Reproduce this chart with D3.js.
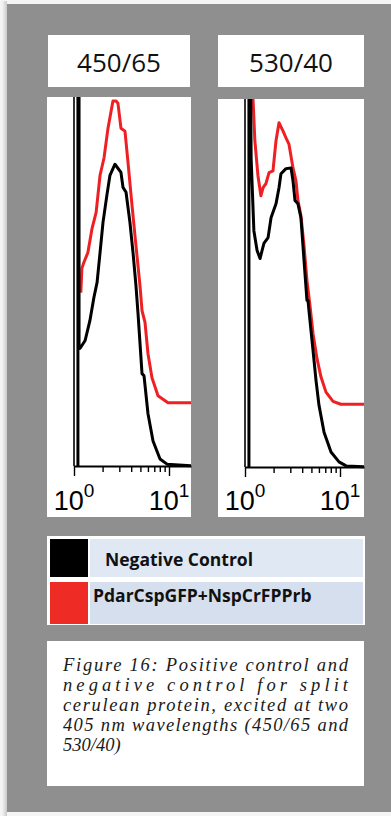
<!DOCTYPE html>
<html>
<head>
<meta charset="utf-8">
<script src="https://cdn.jsdelivr.net/npm/d3@7"></script>
<style>
  html, body { margin: 0; padding: 0; background: #f4f4f4; }
  svg { display: block; }
</style>
</head>
<body>
<svg id="chart" width="391" height="816"></svg>
<script>
// ---------------- DATA ----------------
const panelTitles = ["450/65", "530/40"];
const seriesNames = ["Negative Control", "PdarCspGFP+NspCrFPPrb"];
const seriesColors = ["#000000", "#ee2024"];
const tickValues = [1, 2, 3, 4, 5, 6, 7, 8, 9, 10];
const tickLabelExponents = [0, 1]; // labels 10^0 and 10^1

// [fluorescence intensity, count (% of max)]
const neg450 = [
  [1.10, 0], [1.10, 115], [1.13, 115], [1.13, 31.9], [1.16, 32.0], [1.31, 34.1],
  [1.47, 39.5], [1.62, 45.8], [1.75, 49.9], [1.88, 58.0], [2.02, 66.2],
  [2.22, 73.6], [2.39, 79.0], [2.70, 82.0], [3.12, 79.8], [3.28, 75.7],
  [3.53, 74.4], [3.88, 66.2], [4.18, 58.0], [4.49, 49.0], [4.72, 41.4],
  [5.20, 25.1], [5.46, 24.5], [6.01, 14.2], [6.79, 6.8], [8.04, 1.9],
  [9.53, 0.5], [18.0, 0]
];
const pos450 = [
  [1.18, 47.1], [1.21, 53.7], [1.27, 55.3], [1.40, 58.0], [1.55, 64.6],
  [1.71, 68.9], [1.88, 79.0], [2.07, 83.7], [2.28, 91.8], [2.57, 99.2],
  [2.77, 99.2], [2.90, 98.6], [3.12, 91.8], [3.44, 91.0], [3.70, 82.6],
  [4.08, 70.8], [4.49, 59.9], [4.95, 49.0], [5.20, 42.2], [5.59, 39.0],
  [6.01, 30.5], [6.62, 24.0], [7.66, 19.1], [9.76, 17.2], [18.0, 17.2]
];
const neg530 = [
  [1.10, 0], [1.10, 115], [1.14, 115], [1.16, 84.2], [1.24, 64.4], [1.34, 59.0],
  [1.44, 56.8], [1.58, 60.9], [1.75, 62.5], [1.88, 67.9], [2.12, 71.7],
  [2.28, 76.1], [2.39, 79.9], [2.70, 81.3], [3.05, 81.5], [3.20, 78.0],
  [3.36, 72.6], [3.61, 71.7], [3.88, 67.9], [4.18, 56.3], [4.49, 45.4],
  [4.60, 45.4], [4.83, 39.9], [5.20, 31.8], [5.59, 23.6], [6.01, 16.8],
  [6.79, 9.5], [8.04, 4.1], [9.76, 1.4], [11.6, 0.3], [19.0, 0]
];
const pos530 = [
  [1.17, 110], [1.27, 88.9], [1.37, 79.3], [1.47, 73.9], [1.55, 76.1],
  [1.66, 77.2], [1.79, 80.2], [1.97, 80.7], [2.12, 88.9], [2.28, 93.8],
  [2.51, 91.6], [2.70, 89.7], [2.90, 88.0], [3.20, 81.5], [3.44, 78.0],
  [3.61, 72.6], [3.88, 68.5], [4.18, 60.3], [4.49, 50.8], [4.83, 44.0],
  [5.20, 36.4], [5.72, 29.6], [6.31, 24.5], [7.12, 20.4], [8.44, 17.9],
  [10.2, 17.1], [19.0, 17.1]
];
const panelSeries = [[neg450, pos450], [neg530, pos530]];

const captionLines = [
  "Figure 16: Positive control and",
  "negative control for split",
  "cerulean protein, excited at two",
  "405 nm wavelengths (450/65 and",
  "530/40)"
];

// ---------------- LAYOUT ----------------
const svg = d3.select("#chart");
const defs = svg.append("defs");

// page shadow + gray board
const g0 = defs.append("linearGradient").attr("id", "shadowL").attr("x1", 0).attr("x2", 1);
g0.append("stop").attr("offset", 0).attr("stop-color", "#f4f4f4");
g0.append("stop").attr("offset", 1).attr("stop-color", "#c9c9c9");
svg.append("rect").attr("x", 2).attr("y", 1).attr("width", 5).attr("height", 815).attr("fill", "url(#shadowL)");
svg.append("rect").attr("x", 7).attr("y", 4).attr("width", 384).attr("height", 808).attr("fill", "#8f8f8f");

const panelBoxes = [
  { left: 47, right: 191, titleL: 48, titleR: 190, top: 97, axisY: 466 },
  { left: 218, right: 364, titleL: 218, titleR: 364, top: 99, axisY: 467 }
];

panelBoxes.forEach((pb, i) => {
  // title box
  svg.append("rect").attr("x", pb.titleL).attr("y", 35).attr("width", pb.titleR - pb.titleL).attr("height", 52).attr("fill", "#fff");
  svg.append("text").attr("x", (pb.titleL + pb.titleR) / 2).attr("y", 72)
    .attr("text-anchor", "middle").attr("font-family", "'Open Sans', sans-serif")
    .attr("font-size", 26).attr("fill", "#111").text(panelTitles[i]);

  // plot panel
  svg.append("rect").attr("x", pb.left).attr("y", pb.top).attr("width", pb.right - pb.left)
    .attr("height", 517 - pb.top).attr("fill", "#fff");

  const x0 = pb.left + 27;
  const xTmp = d3.scaleLog().domain([1, 10]).range([x0, x0 + 95]);
  const xMax = xTmp.invert(pb.right);
  const x = d3.scaleLog().domain([1, xMax]).range([x0, pb.right]);
  const y = d3.scaleLinear().domain([0, 100]).range([pb.axisY, pb.top + 1]);

  const clipId = "clip" + i;
  defs.append("clipPath").attr("id", clipId).append("rect")
    .attr("x", pb.left).attr("y", pb.top).attr("width", pb.right - pb.left).attr("height", pb.axisY - pb.top + 2);

  // y axis line
  svg.append("line").attr("x1", x(1)).attr("x2", x(1)).attr("y1", pb.top).attr("y2", pb.axisY)
    .attr("stroke", "#000").attr("stroke-width", 1.6);

  // x axis
  const axis = d3.axisBottom(x).tickValues(tickValues).tickSizeOuter(0).tickFormat("");
  const ax = svg.append("g").attr("transform", `translate(0,${pb.axisY})`).call(axis);
  ax.select(".domain").attr("stroke", "#000").attr("stroke-width", 1.8);
  ax.selectAll(".tick line").attr("stroke", "#000").attr("stroke-width", 1.4)
    .attr("y2", d => (d === 1 || d === 10) ? 10 : 6);

  // tick labels 10^0, 10^1
  tickLabelExponents.forEach(e => {
    const t = svg.append("text").attr("x", x(Math.pow(10, e))).attr("y", 510)
      .attr("text-anchor", "middle").attr("font-family", "'Liberation Sans', Arial, sans-serif")
      .attr("fill", "#000");
    t.append("tspan").attr("font-size", 27).text("10");
    t.append("tspan").attr("font-size", 19).attr("dy", -13).text(String(e));
  });

  // curves
  const line = d3.line().x(d => x(d[0])).y(d => y(d[1])).curve(d3.curveLinear);
  const gClip = svg.append("g").attr("clip-path", `url(#${clipId})`);
  [1, 0].forEach(s => {
    gClip.append("path").datum(panelSeries[i][s])
      .attr("d", line).attr("fill", "none")
      .attr("stroke", seriesColors[s]).attr("stroke-width", 3)
      .attr("stroke-linejoin", "round");
  });
});

// ---------------- LEGEND ----------------
svg.append("rect").attr("x", 47).attr("y", 536).attr("width", 318).attr("height", 89).attr("fill", "#fff");
const legendRows = [
  { y: 539, h: 38, cell: "#dfe8f3", textX: 105, base: 566 },
  { y: 582, h: 42, cell: "#d5dfed", textX: 93, base: 602 }
];
seriesNames.forEach((name, i) => {
  const r = legendRows[i];
  svg.append("rect").attr("x", 50).attr("y", r.y).attr("width", 38).attr("height", r.h).attr("fill", i === 0 ? "#000" : "#ee2b24");
  svg.append("rect").attr("x", 90).attr("y", r.y).attr("width", 273).attr("height", r.h).attr("fill", r.cell);
  svg.append("text").attr("x", r.textX).attr("y", r.base)
    .attr("font-family", "'Open Sans', sans-serif").attr("font-weight", "bold")
    .attr("font-size", 17.5).attr("fill", "#111").text(name);
});

// ---------------- CAPTION ----------------
svg.append("rect").attr("x", 47).attr("y", 641).attr("width", 317).attr("height", 145).attr("fill", "#fff");
captionLines.forEach((ln, i) => {
  const t = svg.append("text").attr("x", 63).attr("y", 671 + i * 20)
    .attr("font-family", "'Liberation Serif', 'Times New Roman', serif")
    .attr("font-style", "italic").attr("font-size", 18.5).attr("fill", "#1a1a1a").text(ln);
  if (i < captionLines.length - 1) {
    t.attr("textLength", 285).attr("lengthAdjust", "spacing");
  }
});
</script>
</body>
</html>
